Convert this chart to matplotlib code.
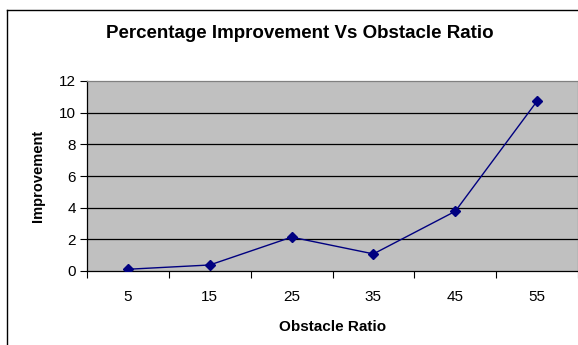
import numpy as np
import matplotlib
matplotlib.use("Agg")
from matplotlib import pyplot as plt

# Obstacle ratio categories and percentage improvement
ratios = ["5", "15", "25", "35", "45", "55"]
improvement = [0.11, 0.38, 2.14, 1.08, 3.77, 10.73]

plt.rcParams["font.family"] = ["Liberation Sans", "DejaVu Sans"]

fig = plt.figure(figsize=(5.78, 3.45), dpi=100)
W, H = 578, 345

# outer chart frame (only left and top edges fall inside the image)
fig.add_artist(plt.Line2D([7 / W, 7 / W], [0, 1 - 10 / H], color="black", lw=1.0,
                          transform=fig.transFigure))
fig.add_artist(plt.Line2D([7 / W, 1], [1 - 10 / H, 1 - 10 / H], color="black", lw=1.0,
                          transform=fig.transFigure))

left, right, top, bottom = 87, 578, 81, 271
ax = fig.add_axes([left / W, 1 - bottom / H, (right - left) / W, (bottom - top) / H])
ax.set_facecolor("#C0C0C0")

x = np.arange(len(ratios))
ax.set_xlim(-0.5, len(ratios) - 0.5)
ax.set_ylim(0, 12)
ax.set_yticks(np.arange(0, 13, 2))
for yv in range(2, 12, 2):
    ax.axhline(yv, color="black", lw=0.9, zorder=1)

ax.plot(x, improvement, color="#000080", lw=1.0, marker="D", markersize=5,
        markerfacecolor="#000080", markeredgecolor="#000080", zorder=3)

# category ticks sit on the boundaries, labels at the centres
ax.set_xticks(np.arange(-0.5, len(ratios), 1.0))
ax.set_xticklabels([])
ax.set_xticks(x, minor=True)
ax.set_xticklabels(ratios, minor=True)
ax.tick_params(axis="x", which="major", direction="out", length=5, width=0.8, color="black")
ax.tick_params(axis="x", which="minor", length=0, pad=14, labelsize=11)
ax.tick_params(axis="y", direction="out", length=5, width=0.8, labelsize=11, pad=3)

for side in ["top", "right"]:
    ax.spines[side].set_color("#808080")
ax.spines["left"].set_color("black")
ax.spines["bottom"].set_color("black")
for s in ax.spines.values():
    s.set_linewidth(0.9)

ax.set_xlabel("Obstacle Ratio", fontsize=11, fontweight="bold", labelpad=11)
ax.set_ylabel("Improvement", fontsize=10.5, fontweight="bold", labelpad=10)
fig.text(300 / W, 1 - 33 / H, "Percentage Improvement Vs Obstacle Ratio",
         ha="center", va="center", fontsize=13.5, fontweight="bold")

fig.savefig("out.png", dpi=100, facecolor="white")
